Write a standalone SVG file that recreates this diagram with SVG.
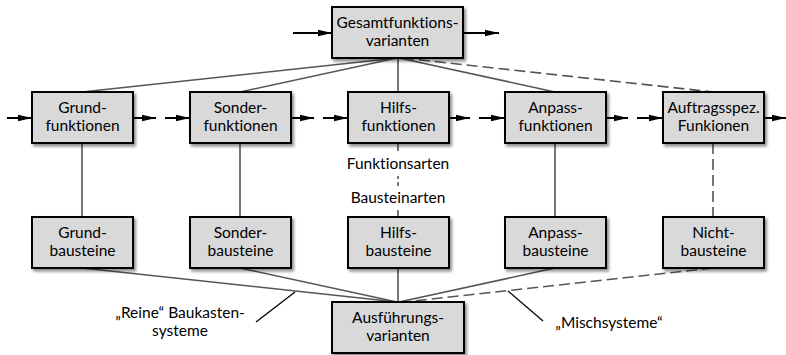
<svg xmlns="http://www.w3.org/2000/svg" width="786" height="355" viewBox="0 0 786 355">
<defs>
<marker id="ah" markerUnits="userSpaceOnUse" markerWidth="15" markerHeight="8" refX="14" refY="4" orient="auto">
<path d="M0,0.7 L14,4 L0,7.3 Z" fill="#000"/>
</marker>
<filter id="sh" x="-10%" y="-10%" width="130%" height="140%">
<feDropShadow dx="2" dy="2.5" stdDeviation="1.5" flood-color="#000" flood-opacity="0.45"/>
</filter>
</defs>
<style>
.box{fill:#d9d9d9;stroke:#000;stroke-width:2;filter:url(#sh)}
.t{font-family:Lato,"Open Sans",sans-serif;font-size:15.5px;fill:#000;text-anchor:middle;font-variant-ligatures:none;font-feature-settings:"liga" 0}
.c{stroke:#555;stroke-width:1.6;fill:none}
.d{stroke:#555;stroke-width:1.6;fill:none;stroke-dasharray:11,5}
.a{stroke:#000;stroke-width:2;fill:none;marker-end:url(#ah)}
.p{stroke:#000;stroke-width:1.3;fill:none}
</style>
<g id="connectors">
<line class="c" x1="397" y1="58" x2="82" y2="92"/>
<line class="c" x1="397" y1="58" x2="240" y2="92"/>
<line class="c" x1="398" y1="58" x2="398" y2="92"/>
<line class="c" x1="399" y1="58" x2="555" y2="92"/>
<line class="d" x1="403" y1="58" x2="713" y2="92"/>
<line class="c" x1="82" y1="143" x2="82" y2="217"/>
<line class="c" x1="240" y1="143" x2="240" y2="217"/>
<line class="c" x1="398" y1="143" x2="398" y2="151"/>
<line class="c" x1="398" y1="176" x2="398" y2="179"/>
<line class="c" x1="398" y1="182" x2="398" y2="186"/>
<line class="c" x1="398" y1="210" x2="398" y2="217"/>
<line class="c" x1="555" y1="143" x2="555" y2="217"/>
<line class="d" x1="713" y1="143" x2="713" y2="217"/>
<line class="c" x1="82" y1="268" x2="397" y2="302"/>
<line class="c" x1="240" y1="268" x2="397" y2="302"/>
<line class="c" x1="398" y1="268" x2="398" y2="302"/>
<line class="c" x1="555" y1="268" x2="399" y2="302"/>
<line class="d" x1="713" y1="268" x2="404" y2="302"/>
<line class="p" x1="295" y1="292" x2="256" y2="322"/>
<line class="p" x1="508" y1="291" x2="543" y2="321"/>
<line class="a" x1="293" y1="33" x2="332" y2="33"/>
<line class="a" x1="463" y1="33" x2="499" y2="33"/>
<line class="a" x1="7" y1="118" x2="32" y2="118"/>
<line class="a" x1="133" y1="118" x2="156" y2="118"/>
<line class="a" x1="165" y1="118" x2="190" y2="118"/>
<line class="a" x1="291" y1="118" x2="314" y2="118"/>
<line class="a" x1="323" y1="118" x2="348" y2="118"/>
<line class="a" x1="449" y1="118" x2="470" y2="118"/>
<line class="a" x1="479" y1="118" x2="505" y2="118"/>
<line class="a" x1="606" y1="118" x2="628" y2="118"/>
<line class="a" x1="637" y1="118" x2="663" y2="118"/>
<line class="a" x1="764" y1="118" x2="786" y2="118"/>
</g>
<g id="gesamt"><rect class="box" x="332" y="7" width="131" height="51"/><text class="t" x="397.5" y="28">Gesamtfunktions-</text><text class="t" x="397.5" y="46">varianten</text></g>
<g id="grundfunktionen"><rect class="box" x="32" y="92" width="101" height="51"/><text class="t" x="82.5" y="113">Grund-</text><text class="t" x="82.5" y="131">funktionen</text></g>
<g id="sonderfunktionen"><rect class="box" x="190" y="92" width="101" height="51"/><text class="t" x="240.5" y="113">Sonder-</text><text class="t" x="240.5" y="131">funktionen</text></g>
<g id="hilfsfunktionen"><rect class="box" x="348" y="92" width="101" height="51"/><text class="t" x="398.5" y="113">Hilfs-</text><text class="t" x="398.5" y="131">funktionen</text></g>
<g id="anpassfunktionen"><rect class="box" x="505" y="92" width="101" height="51"/><text class="t" x="555.5" y="113">Anpass-</text><text class="t" x="555.5" y="131">funktionen</text></g>
<g id="auftragsspez"><rect class="box" x="663" y="92" width="101" height="51"/><text class="t" x="713.5" y="113">Auftragsspez.</text><text class="t" x="713.5" y="131">Funkionen</text></g>
<g id="grundbausteine"><rect class="box" x="32" y="217" width="101" height="51"/><text class="t" x="82.5" y="238">Grund-</text><text class="t" x="82.5" y="256">bausteine</text></g>
<g id="sonderbausteine"><rect class="box" x="190" y="217" width="101" height="51"/><text class="t" x="240.5" y="238">Sonder-</text><text class="t" x="240.5" y="256">bausteine</text></g>
<g id="hilfsbausteine"><rect class="box" x="348" y="217" width="101" height="51"/><text class="t" x="398.5" y="238">Hilfs-</text><text class="t" x="398.5" y="256">bausteine</text></g>
<g id="anpassbausteine"><rect class="box" x="505" y="217" width="101" height="51"/><text class="t" x="555.5" y="238">Anpass-</text><text class="t" x="555.5" y="256">bausteine</text></g>
<g id="nichtbausteine"><rect class="box" x="663" y="217" width="101" height="51"/><text class="t" x="713.5" y="238">Nicht-</text><text class="t" x="713.5" y="256">bausteine</text></g>
<g id="ausfuehrung"><rect class="box" x="332" y="302" width="132" height="51"/><text class="t" x="398" y="323">Ausführungs-</text><text class="t" x="398" y="341">varianten</text></g>
<g id="labels">
<text class="t" x="398" y="169">Funktionsarten</text>
<text class="t" x="398" y="203">Bausteinarten</text>
<text class="t" x="180" y="318">„Reine“ Baukasten-</text>
<text class="t" x="180" y="336">systeme</text>
<text class="t" x="609" y="328">„Mischsysteme“</text>
</g>
</svg>
